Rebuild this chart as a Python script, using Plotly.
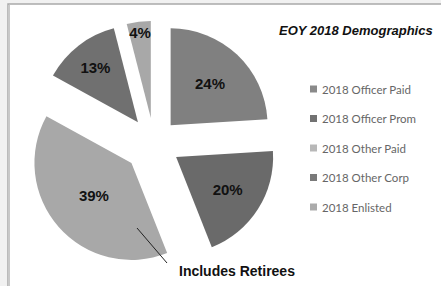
import plotly.graph_objects as go

labels = ["2018 Officer Paid", "2018 Officer Prom", "2018 Other Paid", "2018 Other Corp", "2018 Enlisted"]
values = [24, 20, 39, 13, 4]
slice_colors = ["#808080", "#6a6a6a", "#a8a8a8", "#707070", "#a8a8a8"]
legend_colors = ["#8a8a8a", "#727272", "#b8b8b8", "#7a7a7a", "#ababab"]
pulls = [0.25, 0.27, 0.31, 0.27, 0.26]
title_text = "EOY 2018 Demographics"
note_text = "Includes Retirees"

W, H = 441, 286
def px(x):
    return x / W
def py(y):
    return 1 - y / H

bold_font = "Liberation Sans Narrow, Arial Narrow, Liberation Sans, Arial"

cx, cy, r = 154, 143, 97
box = 2 * r * (1 + max(pulls))

fig = go.Figure()
fig.add_trace(go.Pie(
    labels=labels, values=values, sort=False, direction="clockwise", rotation=0,
    pull=pulls, marker=dict(colors=slice_colors, line=dict(width=0)),
    texttemplate="%{percent:.0%}", textposition="inside", insidetextorientation="horizontal",
    textfont=dict(family=bold_font, size=15, color="#111111", weight="bold"),
    domain=dict(x=[px(cx - box / 2), px(cx + box / 2)], y=[py(cy + box / 2), py(cy - box / 2)]),
    showlegend=False, hoverinfo="label+percent",
))

shapes = [
    dict(type="rect", xref="paper", yref="paper", x0=px(8), x1=px(445), y0=py(290), y1=py(4),
         line=dict(color="#a9a9a9", width=1.5), fillcolor="white", layer="below"),
    dict(type="line", xref="paper", yref="paper", x0=px(9), x1=px(9), y0=py(286), y1=py(5),
         line=dict(color="#c8c8c8", width=2), layer="below"),
    dict(type="line", xref="paper", yref="paper", x0=px(137), y0=py(228), x1=px(167), y1=py(263),
         line=dict(color="#222222", width=1)),
]
annotations = [
    dict(text="<b><i>" + title_text + "</i></b>", xref="paper", yref="paper", x=px(435), y=py(30),
         xanchor="right", yanchor="middle", showarrow=False,
         font=dict(family=bold_font, size=13, color="#111111")),
    dict(text="<b>" + note_text + "</b>", xref="paper", yref="paper", x=px(177), y=py(271),
         xanchor="left", yanchor="middle", showarrow=False,
         font=dict(family=bold_font, size=14, color="#111111")),
]
leg_y0, leg_dy = 89, 29.5
for i, (lab, col) in enumerate(zip(labels, legend_colors)):
    yy = leg_y0 + i * leg_dy
    shapes.append(dict(type="rect", xref="paper", yref="paper", x0=px(310), x1=px(317),
                       y0=py(yy + 3.5), y1=py(yy - 3.5), line=dict(width=0), fillcolor=col))
    annotations.append(dict(text=lab, xref="paper", yref="paper", x=px(320), y=py(yy),
                            xanchor="left", yanchor="middle", showarrow=False,
                            font=dict(family="Lato, Open Sans, sans-serif", size=11.5, color="#666666")))

fig.update_layout(
    width=W, height=H, margin=dict(l=0, r=0, t=0, b=0),
    paper_bgcolor="#f1f1f1", plot_bgcolor="white",
    shapes=shapes, annotations=annotations,
    uniformtext=dict(minsize=15, mode="show"),
)
fig.write_html("out.html", config={"displayModeBar": False},
               post_script="document.body.style.margin='0';")
